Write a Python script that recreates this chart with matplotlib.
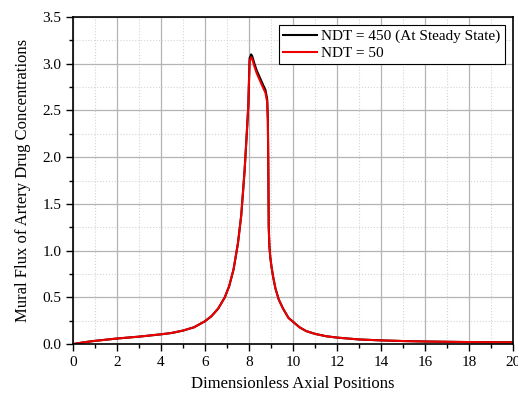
import numpy as np
import matplotlib
matplotlib.use("Agg")
import matplotlib.pyplot as plt
from matplotlib.ticker import MultipleLocator

plt.rcParams['font.family'] = ['Liberation Serif', 'DejaVu Serif']

# axial positions and flux values
x_pos = [0.0, 0.5, 1.0, 2.0, 3.0, 4.0, 4.5, 5.0, 5.5, 6.0, 6.3, 6.6, 6.9, 7.1,
         7.3, 7.5, 7.65, 7.8, 7.9, 7.97, 8.03, 8.1, 8.15, 8.25, 8.35, 8.5,
         8.65, 8.75, 8.83, 8.86, 8.88, 8.9, 8.93, 8.97, 9.03, 9.1, 9.2, 9.35,
         9.55, 9.8, 10.0, 10.3, 10.6, 11.0, 11.5, 12.0, 13.0, 14.0, 15.0,
         16.0, 17.0, 18.0, 19.0, 20.0]
flux_ndt450 = [0.0, 0.02, 0.035, 0.06, 0.08, 0.105, 0.12, 0.145, 0.18, 0.245,
               0.30, 0.38, 0.50, 0.62, 0.80, 1.08, 1.38, 1.85, 2.25, 2.55,
               3.06, 3.10, 3.08, 3.00, 2.93, 2.85, 2.77, 2.72, 2.62, 2.40,
               1.90, 1.25, 1.05, 0.93, 0.82, 0.72, 0.60, 0.48, 0.38, 0.28,
               0.24, 0.18, 0.14, 0.11, 0.085, 0.07, 0.05, 0.04, 0.033,
               0.028, 0.025, 0.022, 0.02, 0.02]
flux_ndt50 = [0.0, 0.02, 0.035, 0.06, 0.08, 0.105, 0.12, 0.145, 0.18, 0.245,
              0.30, 0.38, 0.50, 0.62, 0.80, 1.08, 1.38, 1.85, 2.25, 2.55,
              3.03, 3.07, 3.05, 2.97, 2.90, 2.82, 2.74, 2.69, 2.59, 2.38,
              1.90, 1.25, 1.05, 0.93, 0.82, 0.72, 0.60, 0.48, 0.38, 0.28,
              0.24, 0.18, 0.14, 0.11, 0.085, 0.07, 0.05, 0.04, 0.033,
              0.028, 0.025, 0.022, 0.02, 0.02]

fig = plt.figure(figsize=(5.18, 3.96), dpi=100)
ax = fig.add_axes([0.141, 0.131, 0.849, 0.826])

ax.plot(x_pos, flux_ndt450, color='black', linewidth=1.5, label='NDT = 450 (At Steady State)')
ax.plot(x_pos, flux_ndt50, color='#ee0000', linewidth=1.5, label='NDT = 50')

ax.set_xlim(0, 20)
ax.set_ylim(0, 3.5)
ax.xaxis.set_major_locator(MultipleLocator(2))
ax.xaxis.set_minor_locator(MultipleLocator(1))
ax.yaxis.set_major_locator(MultipleLocator(0.5))
ax.yaxis.set_minor_locator(MultipleLocator(0.25))
ax.yaxis.set_major_formatter(matplotlib.ticker.FormatStrFormatter('%.1f'))

ax.grid(True, which='major', color='#b4b4b4', linewidth=0.9)
ax.grid(True, which='minor', color='#d4d4d4', linestyle=':', linewidth=0.8)
ax.set_axisbelow(True)

ax.tick_params(which='both', direction='out', labelsize=11, width=1)
ax.tick_params(which='major', length=5)
ax.tick_params(which='minor', length=3)
for s in ax.spines.values():
    s.set_linewidth(1.2)

ax.set_xlabel('Dimensionless Axial Positions', fontsize=12, labelpad=5)
ax.set_ylabel('Mural Flux of Artery Drug Concentrations', fontsize=12, labelpad=8)

leg = ax.legend(loc='upper right', fontsize=11, fancybox=False, framealpha=1,
                edgecolor='black', borderpad=0.3, handlelength=2.2,
                handletextpad=0.3, labelspacing=0.2, borderaxespad=0.5)
leg.get_frame().set_linewidth(0.8)

fig.savefig('out.png', dpi=100)
